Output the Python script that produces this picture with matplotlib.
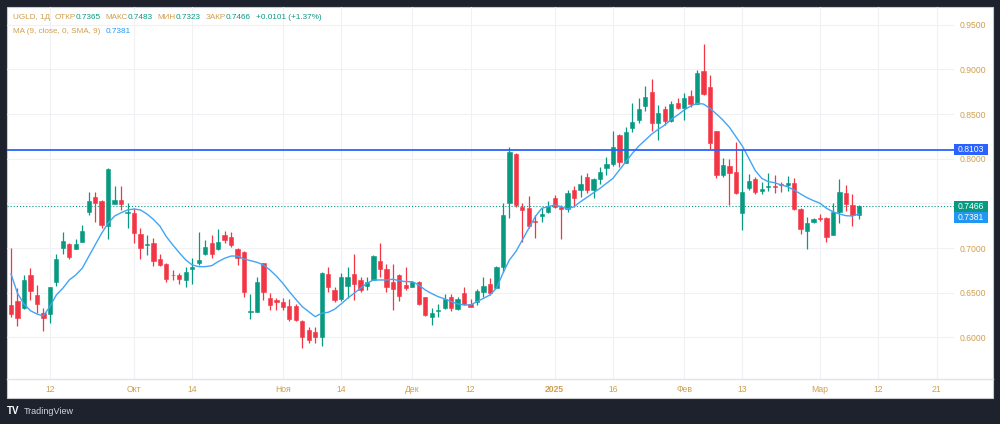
import matplotlib
matplotlib.use("Agg")
import matplotlib.pyplot as plt
from matplotlib.patches import Rectangle
from matplotlib.lines import Line2D
from matplotlib.transforms import IdentityTransform
import numpy as np

plt.rcParams['font.family'] = ['Liberation Sans', 'DejaVu Sans']

# дневные свечи UGLD
opens = [0.6362, 0.6410, 0.6331, 0.6701, 0.6477, 0.6269, 0.6258, 0.6619, 0.7003, 0.7045,
         0.6989, 0.7071, 0.7400, 0.7568, 0.7530, 0.7250, 0.7496, 0.7538, 0.7395, 0.7389,
         0.7157, 0.7033, 0.7059, 0.6873, 0.6817, 0.6701, 0.6701, 0.6642, 0.6762, 0.6829,
         0.6929, 0.7053, 0.6986, 0.7142, 0.7120, 0.6986, 0.6959, 0.6287, 0.6287, 0.6836,
         0.6437, 0.6418, 0.6399, 0.6351, 0.6351, 0.6183, 0.6082, 0.6056, 0.6007, 0.6709,
         0.6530, 0.6426, 0.6574, 0.6709, 0.6642, 0.6578, 0.6642, 0.6854, 0.6765, 0.6616,
         0.6698, 0.6586, 0.6567, 0.6616, 0.6448, 0.6224, 0.6298, 0.6325, 0.6455, 0.6317,
         0.6493, 0.6373, 0.6392, 0.6511, 0.6597, 0.6549, 0.6791, 0.7501, 0.8053, 0.7463,
         0.7451, 0.7306, 0.7362, 0.7406, 0.7563, 0.7456, 0.7437, 0.7649, 0.7649, 0.7798,
         0.7649, 0.7769, 0.7892, 0.7941, 0.8265, 0.7955, 0.8340, 0.8433, 0.8590, 0.8743,
         0.8403, 0.8553, 0.8426, 0.8627, 0.8564, 0.8702, 0.8612, 0.8985, 0.8800, 0.8313,
         0.7817, 0.7922, 0.7848, 0.7395, 0.7669, 0.7773, 0.7638, 0.7687, 0.7698, 0.7717,
         0.7706, 0.7724, 0.7433, 0.7194, 0.7291, 0.7339, 0.7333, 0.7146, 0.7400, 0.7619,
         0.7481, 0.7365]
highs = [0.6997, 0.6549, 0.6698, 0.6773, 0.6586, 0.6331, 0.6567, 0.6929, 0.7176, 0.7053,
         0.7097, 0.7258, 0.7624, 0.7624, 0.7537, 0.7899, 0.7694, 0.7694, 0.7507, 0.7445,
         0.7221, 0.7146, 0.7115, 0.6929, 0.6829, 0.6754, 0.6717, 0.6784, 0.6885, 0.7183,
         0.7090, 0.7146, 0.7213, 0.7194, 0.7183, 0.6997, 0.6970, 0.6485, 0.6679, 0.6836,
         0.6493, 0.6437, 0.6437, 0.6429, 0.6373, 0.6194, 0.6112, 0.6112, 0.6735, 0.6784,
         0.6560, 0.6723, 0.6784, 0.6933, 0.6679, 0.6679, 0.6922, 0.7053, 0.6817, 0.6817,
         0.6706, 0.6791, 0.6634, 0.6634, 0.6455, 0.6325, 0.6373, 0.6485, 0.6482, 0.6455,
         0.6567, 0.6426, 0.6537, 0.6679, 0.6661, 0.6802, 0.7501, 0.8134, 0.8060, 0.7501,
         0.7582, 0.7370, 0.7451, 0.7530, 0.7593, 0.7482, 0.7649, 0.7694, 0.7817, 0.7843,
         0.7780, 0.7904, 0.8016, 0.8310, 0.8276, 0.8358, 0.8620, 0.8676, 0.8814, 0.8889,
         0.8601, 0.8590, 0.8649, 0.8676, 0.8739, 0.8769, 0.8993, 0.9281, 0.8937, 0.8313,
         0.8004, 0.7993, 0.8190, 0.8105, 0.7829, 0.7798, 0.7743, 0.7837, 0.7817, 0.7743,
         0.7806, 0.7780, 0.7445, 0.7351, 0.7339, 0.7377, 0.7351, 0.7501, 0.7773, 0.7705,
         0.7605, 0.7483]
lows = [0.6231, 0.6130, 0.6320, 0.6418, 0.6275, 0.6074, 0.6157, 0.6574, 0.6933, 0.6873,
        0.6985, 0.7065, 0.7370, 0.7288, 0.7221, 0.7101, 0.7490, 0.7426, 0.7227, 0.7053,
        0.6873, 0.6922, 0.6802, 0.6798, 0.6623, 0.6642, 0.6597, 0.6560, 0.6597, 0.6810,
        0.6922, 0.6885, 0.6978, 0.7053, 0.7008, 0.6810, 0.6455, 0.6205, 0.6287, 0.6418,
        0.6306, 0.6306, 0.6306, 0.6186, 0.6186, 0.5877, 0.5933, 0.5933, 0.5903, 0.6511,
        0.6399, 0.6410, 0.6437, 0.6418, 0.6511, 0.6530, 0.6642, 0.6679, 0.6511, 0.6306,
        0.6410, 0.6530, 0.6560, 0.6362, 0.6239, 0.6138, 0.6224, 0.6314, 0.6298, 0.6306,
        0.6362, 0.6336, 0.6362, 0.6455, 0.6474, 0.6549, 0.6735, 0.7333, 0.7463, 0.7071,
        0.7221, 0.7109, 0.7294, 0.7389, 0.7445, 0.7101, 0.7406, 0.7463, 0.7574, 0.7619,
        0.7556, 0.7717, 0.7817, 0.7918, 0.7910, 0.7955, 0.8302, 0.8396, 0.8537, 0.8314,
        0.8209, 0.8377, 0.8407, 0.8553, 0.8433, 0.8582, 0.8612, 0.8713, 0.8105, 0.7780,
        0.7798, 0.7481, 0.7610, 0.7202, 0.7649, 0.7605, 0.7601, 0.7642, 0.7612, 0.7630,
        0.7642, 0.7426, 0.7153, 0.6985, 0.7283, 0.7302, 0.7064, 0.7146, 0.7283, 0.7418,
        0.7250, 0.7323]
closes = [0.6261, 0.6216, 0.6642, 0.6515, 0.6370, 0.6219, 0.6560, 0.6873, 0.7078, 0.6899,
          0.7045, 0.7194, 0.7530, 0.7501, 0.7261, 0.7885, 0.7538, 0.7490, 0.7407, 0.7165,
          0.6997, 0.7041, 0.6858, 0.6810, 0.6656, 0.6694, 0.6650, 0.6735, 0.6791, 0.6866,
          0.7015, 0.6929, 0.7064, 0.7090, 0.7034, 0.6885, 0.6511, 0.6294, 0.6623, 0.6511,
          0.6362, 0.6399, 0.6343, 0.6205, 0.6194, 0.6007, 0.5970, 0.6007, 0.6723, 0.6560,
          0.6418, 0.6679, 0.6679, 0.6593, 0.6530, 0.6623, 0.6910, 0.6765, 0.6567, 0.6538,
          0.6466, 0.6549, 0.6616, 0.6373, 0.6250, 0.6269, 0.6310, 0.6429, 0.6325, 0.6429,
          0.6373, 0.6343, 0.6518, 0.6574, 0.6499, 0.6791, 0.7370, 0.8072, 0.7482, 0.7426,
          0.7246, 0.7294, 0.7381, 0.7474, 0.7463, 0.7433, 0.7619, 0.7563, 0.7717, 0.7649,
          0.7769, 0.7848, 0.7941, 0.8134, 0.7967, 0.8302, 0.8414, 0.8553, 0.8688, 0.8403,
          0.8515, 0.8426, 0.8612, 0.8564, 0.8676, 0.8609, 0.8956, 0.8725, 0.8172, 0.7817,
          0.7929, 0.7843, 0.7619, 0.7624, 0.7754, 0.7630, 0.7661, 0.7694, 0.7680, 0.7706,
          0.7724, 0.7433, 0.7209, 0.7277, 0.7328, 0.7325, 0.7127, 0.7403, 0.7624, 0.7493,
          0.7365, 0.7466]
# MA (9, close) как на графике
ma9 = [0.6710, 0.6493, 0.6373, 0.6298, 0.6261, 0.6239, 0.6343, 0.6474, 0.6549, 0.6642,
       0.6698, 0.6773, 0.6903, 0.7034, 0.7165, 0.7277, 0.7358, 0.7395, 0.7426, 0.7437,
       0.7426, 0.7381, 0.7321, 0.7246, 0.7127, 0.7034, 0.6947, 0.6866, 0.6810, 0.6791,
       0.6791, 0.6802, 0.6847, 0.6885, 0.6910, 0.6910, 0.6877, 0.6858, 0.6840, 0.6810,
       0.6754, 0.6686, 0.6605, 0.6511, 0.6426, 0.6343, 0.6287, 0.6231, 0.6269, 0.6280,
       0.6314, 0.6373, 0.6437, 0.6493, 0.6549, 0.6605, 0.6642, 0.6642, 0.6642, 0.6650,
       0.6634, 0.6623, 0.6623, 0.6586, 0.6530, 0.6490, 0.6455, 0.6430, 0.6400, 0.6375,
       0.6362, 0.6362, 0.6399, 0.6437, 0.6474, 0.6549, 0.6717, 0.6866, 0.6959, 0.7090,
       0.7221, 0.7351, 0.7445, 0.7463, 0.7481, 0.7463, 0.7437, 0.7463, 0.7519, 0.7568,
       0.7619, 0.7668, 0.7724, 0.7780, 0.7873, 0.7966, 0.8060, 0.8142, 0.8209, 0.8276,
       0.8329, 0.8377, 0.8441, 0.8489, 0.8545, 0.8590, 0.8620, 0.8612, 0.8564, 0.8500,
       0.8433, 0.8352, 0.8246, 0.8142, 0.8004, 0.7866, 0.7780, 0.7743, 0.7731, 0.7706,
       0.7687, 0.7649, 0.7605, 0.7563, 0.7530, 0.7501, 0.7445, 0.7406, 0.7381, 0.7362,
       0.7358, 0.7381]

level = 0.8103
tick_bars = [6, 19, 28, 42, 51, 62, 71, 84, 93, 104, 113, 125, 134, 143]
tick_labels = ['12', 'Окт', '14', 'Ноя', '14', 'Дек', '12', '2025', '16', 'Фев', '13', 'Мар', '12', '21']
price_ticks = [0.60, 0.65, 0.70, 0.75, 0.80, 0.85, 0.90, 0.95]

up = '#089981'
down = '#f23645'
gold = '#cf9f4f'
ma_col = '#42a5f5'

W, H = 1000, 424
fig = plt.figure(figsize=(W / 100, H / 100), dpi=100, facecolor='#1e222d')
# белая панель
fig.add_artist(Rectangle((7 / W, 1 - 398 / H), 986 / W, 391 / H, transform=fig.transFigure,
                         facecolor='white', edgecolor='#c8cad0', lw=0.8, zorder=-1))
ax = fig.add_axes([7 / W, 1 - 379 / H, 947 / W, 372 / H])
ax.set_facecolor('none')

x = np.arange(len(opens))
o = np.array(opens); c = np.array(closes)
cols = [up if cc >= oo else down for oo, cc in zip(opens, closes)]
ax.vlines(x, lows, highs, colors=cols, lw=0.9, zorder=3)
ax.bar(x, np.abs(c - o), bottom=np.minimum(o, c), width=0.66, color=cols,
       edgecolor=cols, linewidth=0.4, zorder=4)
ax.plot(x, ma9, color=ma_col, lw=1.0, zorder=5)

ax.axhline(level, color='#2962ff', lw=1.3, zorder=6)
ax.axhline(closes[-1], color=up, lw=0.8, ls=(0, (1, 1.8)), zorder=2)

ax.set_xlim(-0.62, 145.7)
ax.set_ylim(0.5533, 0.9699)
ax.set_xticks(tick_bars)
ax.set_xticklabels(tick_labels)
for lab in ax.get_xticklabels():
    if lab.get_text() == '2025':
        lab.set_fontweight('bold')
ax.set_yticks(price_ticks)
ax.set_yticklabels([f'{v:.4f}' for v in price_ticks])
ax.yaxis.tick_right()
ax.tick_params(axis='both', length=0, labelsize=6.2, colors=gold)
ax.tick_params(axis='x', pad=4)
ax.tick_params(axis='y', pad=3.8)
ax.grid(True, color='#f0f1f4', lw=0.8, zorder=0)
for s in ax.spines.values():
    s.set_visible(False)

# разделитель шкалы времени
fig.add_artist(Line2D([7 / W, 993 / W], [1 - 379 / H] * 2, transform=fig.transFigure,
                      color='#e0e3eb', lw=1.0))

# плашки цен на правой шкале
def badge(val, bg, yd=None):
    if yd is None:
        yd = ax.transData.transform((0, val))[1]
    x0 = ax.bbox.x1
    fig.add_artist(Rectangle((x0, yd - 5.5), 34, 11, transform=IdentityTransform(),
                             facecolor=bg, edgecolor='none', zorder=10))
    fig.text(x0 + 17, yd, f'{val:.4f}', transform=IdentityTransform(), color='white',
             fontsize=6.2, ha='center', va='center', zorder=11)
    return yd

badge(level, '#2962ff')
y_close = badge(closes[-1], up)
# плашка MA сдвинута вниз под плашку цены закрытия
badge(ma9[-1], '#2196f3', yd=y_close - 11.5)

# заголовок
r = fig.canvas.get_renderer()
def line(xpx, ypx, parts):
    for txt, col, gap in parts:
        xpx += gap
        t = fig.text(xpx / W, 1 - ypx / H, txt, color=col, fontsize=5.9, va='baseline')
        bb = t.get_window_extent(renderer=r)
        xpx = bb.x1

line(12.7, 19.3, [('UGLD, 1Д', gold, 0), ('ОТКР', gold, 4.8), (f'{opens[-1]:.4f}', up, 0),
                  ('МАКС', gold, 4.8), (f'{highs[-1]:.4f}', up, 0),
                  ('МИН', gold, 4.8), (f'{lows[-1]:.4f}', up, 0),
                  ('ЗАКР', gold, 4.8), (f'{closes[-1]:.4f}', up, 0),
                  (f'{closes[-1] - closes[-2]:+.4f} ({(closes[-1] / closes[-2] - 1) * 100:+.2f}%)', up, 5.0)])
line(12.7, 32.7, [('MA (9, close, 0, SMA, 9)', gold, 0), (f'{ma9[-1]:.4f}', '#2196f3', 5.3)])

# логотип
fig.text(7 / W, 1 - 411.5 / H, 'TV', color='white', fontsize=7, fontweight='heavy', va='center')
fig.text(24 / W, 1 - 411.5 / H, 'TradingView', color='#d1d4dc', fontsize=6.5, va='center')

fig.savefig('out.png', dpi=100, facecolor=fig.get_facecolor())
